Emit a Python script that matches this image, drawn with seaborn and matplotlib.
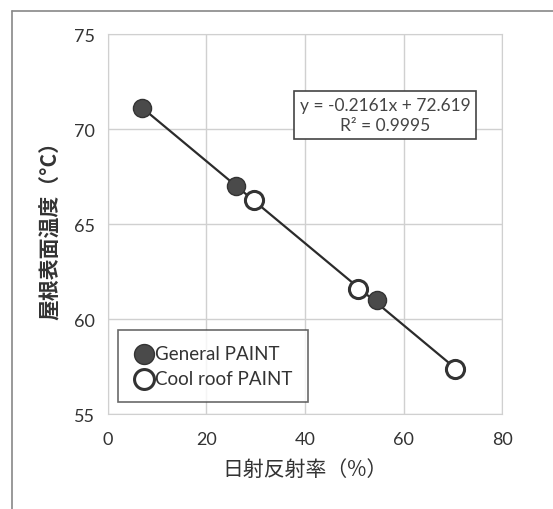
import numpy as np
import pandas as pd
import matplotlib
matplotlib.use("Agg")
import matplotlib.pyplot as plt
from matplotlib.lines import Line2D
import seaborn as sns

general_x = [7.0, 26.0, 54.6]
general_y = [71.1, 67.0, 61.0]
cool_x = [29.7, 50.8, 70.5]
cool_y = [66.25, 61.6, 57.35]
x_ticks = [0, 20, 40, 60, 80]
y_ticks = [55, 60, 65, 70, 75]

sns.set_style("white")
plt.rcParams['font.family'] = ['Lato', 'Noto Sans CJK JP', 'DejaVu Sans']

fig = plt.figure(figsize=(5.53, 5.10), dpi=100)
ax = fig.add_axes([0.195, 0.186, 0.713, 0.745])

all_df = pd.DataFrame({"x": general_x + cool_x, "y": general_y + cool_y})
sns.regplot(data=all_df, x="x", y="y", ax=ax, scatter=False, ci=None,
            truncate=True, line_kws=dict(color="#2b2b2b", lw=1.6, zorder=2))

gdf = pd.DataFrame({"x": general_x, "y": general_y})
cdf = pd.DataFrame({"x": cool_x, "y": cool_y})
sns.scatterplot(data=gdf, x="x", y="y", ax=ax, s=170, color="#4a4a4a",
                edgecolor="#333333", linewidth=1, zorder=3, label="General PAINT")
sns.scatterplot(data=cdf, x="x", y="y", ax=ax, s=170, color="white",
                edgecolor="#333333", linewidth=2.2, zorder=3, label="Cool roof PAINT")

ax.set_xlim(0, 80)
ax.set_ylim(55, 75)
ax.set_xticks(x_ticks)
ax.set_yticks(y_ticks)
ax.grid(True, color="#d0d0d0", lw=1)
for s in ax.spines.values():
    s.set_color("#d0d0d0")
ax.tick_params(axis="both", labelsize=13, colors="#333333", length=0, pad=9)
ax.tick_params(axis="x", pad=12)
cjk = ['Noto Sans CJK JP', 'DejaVu Sans']
ax.set_xlabel("日射反射率（%）", fontsize=15, color="#333333", labelpad=8, family=cjk)
ax.set_ylabel("屋根表面温度（°C）", fontsize=15, color="#333333",
              fontweight="bold", labelpad=10, family=cjk)

leg = ax.legend(loc="lower left", bbox_to_anchor=(0.025, 0.032), borderaxespad=0,
                fontsize=13.5, frameon=True, fancybox=False, edgecolor="#444444",
                handletextpad=0.0, borderpad=0.8, labelspacing=0.45,
                handlelength=1.2, markerscale=1.1)
leg.get_frame().set_linewidth(1.2)
for t in leg.get_texts():
    t.set_color("#333333")

ax.text(0.703, 0.787, "y = -0.2161x + 72.619\nR² = 0.9995", transform=ax.transAxes,
        ha="center", va="center", fontsize=12.5, color="#444444",
        linespacing=1.3,
        bbox=dict(boxstyle="square,pad=0.35", fc="white", ec="#444444", lw=1.2))

fig.add_artist(Line2D([12/553, 1.0], [1 - 12/510, 1 - 12/510],
                      transform=fig.transFigure, color="#888888", lw=1.2))
fig.add_artist(Line2D([12/553, 12/553], [0, 1 - 12/510],
                      transform=fig.transFigure, color="#888888", lw=1.2))

fig.savefig("out.png", dpi=100)
